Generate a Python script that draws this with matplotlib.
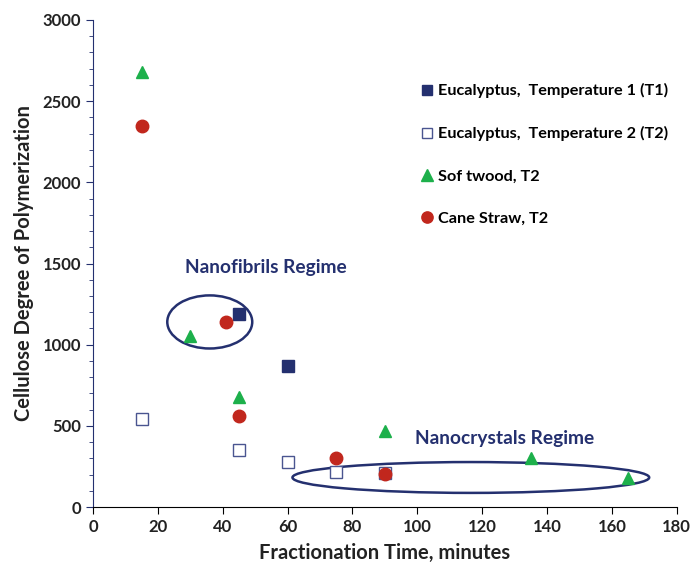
import matplotlib
matplotlib.use('Agg')
import matplotlib.pyplot as plt
from matplotlib.patches import Ellipse
from matplotlib.ticker import MultipleLocator

plt.rcParams['font.family'] = ['Lato', 'DejaVu Sans']

# data
euc_t1_x = [45, 60]
euc_t1_y = [1190, 870]
euc_t2_x = [15, 45, 60, 75, 90]
euc_t2_y = [545, 350, 275, 215, 210]
soft_x = [15, 30, 45, 90, 135, 165]
soft_y = [2680, 1055, 680, 470, 305, 180]
cane_x = [15, 41, 45, 75, 90]
cane_y = [2345, 1140, 560, 300, 205]

navy = '#24306f'
green = '#1db04b'
red = '#c1271d'

fig = plt.figure(figsize=(6.92, 5.66), dpi=100)
ax = fig.add_axes([0.1344, 0.1042, 0.8436, 0.8605])

ax.plot(euc_t1_x, euc_t1_y, 's', color=navy, ms=8, ls='none',
        label='Eucalyptus,  Temperature 1 (T1)')
ax.plot(euc_t2_x, euc_t2_y, 's', mfc='white', mec='#4a5590', mew=1.0, ms=8,
        ls='none', label='Eucalyptus,  Temperature 2 (T2)')
ax.plot(soft_x, soft_y, '^', color=green, ms=9, ls='none', label='Sof twood, T2')
ax.plot(cane_x, cane_y, 'o', color=red, ms=9, ls='none', label='Cane Straw, T2')

ax.add_patch(Ellipse((36, 1140), 26.2, 327, fill=False, ec=navy, lw=1.8))
ax.add_patch(Ellipse((116.5, 182), 110, 190, fill=False, ec=navy, lw=1.8))

ax.text(53.3, 1473, 'Nanofibrils Regime', color=navy, fontsize=13.8,
        fontweight='bold', ha='center', va='center')
ax.text(127, 425, 'Nanocrystals Regime', color=navy, fontsize=13.8,
        fontweight='bold', ha='center', va='center')

ax.set_xlim(0, 180)
ax.set_ylim(0, 3000)
ax.xaxis.set_major_locator(MultipleLocator(20))
ax.yaxis.set_major_locator(MultipleLocator(500))
ax.yaxis.set_minor_locator(MultipleLocator(100))

for s in ['top', 'right']:
    ax.spines[s].set_visible(False)
ax.spines['left'].set_color(navy)
ax.spines['bottom'].set_color('black')
ax.tick_params(axis='y', which='major', length=5, color=navy, labelsize=12)
ax.tick_params(axis='y', which='minor', length=3, color=navy)
ax.tick_params(axis='x', length=5, labelsize=12)
for lbl in ax.get_xticklabels() + ax.get_yticklabels():
    lbl.set_fontweight('bold')
    lbl.set_color('#222222')

ax.set_xlabel('Fractionation Time, minutes', fontsize=14.5, fontweight='bold',
              color='#222222', labelpad=6)
ax.set_ylabel('Cellulose Degree of Polymerization', fontsize=14.5,
              fontweight='bold', color='#222222', labelpad=6)

leg = ax.legend(loc='upper left', bbox_to_anchor=(0.531, 0.90), frameon=False,
                prop={'weight': 'bold', 'size': 11.7}, handletextpad=0.05,
                labelspacing=1.72, handlelength=1.2, numpoints=1,
                markerscale=0.9)

fig.savefig('out.png', dpi=100)
